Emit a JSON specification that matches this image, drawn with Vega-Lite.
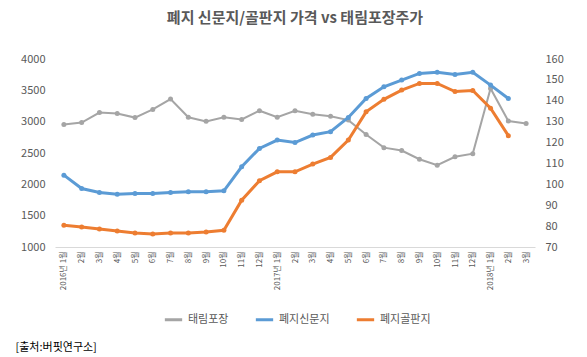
{
  "$schema": "https://vega.github.io/schema/vega-lite/v6.json",
  "autosize": "none",
  "width": 480,
  "height": 188,
  "padding": {"left": 55, "top": 59, "right": 52, "bottom": 110},
  "background": "white",
  "title": {"text": "폐지 신문지/골판지 가격 vs 태림포장주가", "fontSize": 15, "fontWeight": "bold", "color": "#595959", "font": "Noto Sans CJK KR", "offset": 27, "anchor": "middle"},
  "config": {
    "view": {"stroke": null},
    "font": "Noto Sans CJK KR",
    "axis": {"labelColor": "#595959", "labelFont": "Noto Sans CJK KR", "grid": false, "ticks": false, "domain": false, "labelFontSize": 11}
  },
  "data": {"values": [
    {"m":"2016-01","s":"태림포장","v":2955},{"m":"2016-02","s":"태림포장","v":2985},{"m":"2016-03","s":"태림포장","v":3145},{"m":"2016-04","s":"태림포장","v":3130},{"m":"2016-05","s":"태림포장","v":3065},{"m":"2016-06","s":"태림포장","v":3195},{"m":"2016-07","s":"태림포장","v":3360},{"m":"2016-08","s":"태림포장","v":3070},{"m":"2016-09","s":"태림포장","v":3005},{"m":"2016-10","s":"태림포장","v":3070},{"m":"2016-11","s":"태림포장","v":3035},{"m":"2016-12","s":"태림포장","v":3175},{"m":"2017-01","s":"태림포장","v":3070},{"m":"2017-02","s":"태림포장","v":3175},{"m":"2017-03","s":"태림포장","v":3120},{"m":"2017-04","s":"태림포장","v":3085},{"m":"2017-05","s":"태림포장","v":3025},{"m":"2017-06","s":"태림포장","v":2795},{"m":"2017-07","s":"태림포장","v":2585},{"m":"2017-08","s":"태림포장","v":2540},{"m":"2017-09","s":"태림포장","v":2400},{"m":"2017-10","s":"태림포장","v":2305},{"m":"2017-11","s":"태림포장","v":2440},{"m":"2017-12","s":"태림포장","v":2490},{"m":"2018-01","s":"태림포장","v":3530},{"m":"2018-02","s":"태림포장","v":3010},{"m":"2018-03","s":"태림포장","v":2970},
    {"m":"2016-01","s":"폐지신문지","v":104.4},{"m":"2016-02","s":"폐지신문지","v":98.0},{"m":"2016-03","s":"폐지신문지","v":96.1},{"m":"2016-04","s":"폐지신문지","v":95.2},{"m":"2016-05","s":"폐지신문지","v":95.6},{"m":"2016-06","s":"폐지신문지","v":95.6},{"m":"2016-07","s":"폐지신문지","v":96.1},{"m":"2016-08","s":"폐지신문지","v":96.5},{"m":"2016-09","s":"폐지신문지","v":96.5},{"m":"2016-10","s":"폐지신문지","v":96.9},{"m":"2016-11","s":"폐지신문지","v":108.4},{"m":"2016-12","s":"폐지신문지","v":117.2},{"m":"2017-01","s":"폐지신문지","v":121.2},{"m":"2017-02","s":"폐지신문지","v":120.0},{"m":"2017-03","s":"폐지신문지","v":123.6},{"m":"2017-04","s":"폐지신문지","v":125.2},{"m":"2017-05","s":"폐지신문지","v":132.0},{"m":"2017-06","s":"폐지신문지","v":141.1},{"m":"2017-07","s":"폐지신문지","v":146.7},{"m":"2017-08","s":"폐지신문지","v":149.9},{"m":"2017-09","s":"폐지신문지","v":153.1},{"m":"2017-10","s":"폐지신문지","v":153.6},{"m":"2017-11","s":"폐지신문지","v":152.6},{"m":"2017-12","s":"폐지신문지","v":153.6},{"m":"2018-01","s":"폐지신문지","v":147.5},{"m":"2018-02","s":"폐지신문지","v":141.1},
    {"m":"2016-01","s":"폐지골판지","v":80.4},{"m":"2016-02","s":"폐지골판지","v":79.6},{"m":"2016-03","s":"폐지골판지","v":78.6},{"m":"2016-04","s":"폐지골판지","v":77.7},{"m":"2016-05","s":"폐지골판지","v":76.7},{"m":"2016-06","s":"폐지골판지","v":76.2},{"m":"2016-07","s":"폐지골판지","v":76.7},{"m":"2016-08","s":"폐지골판지","v":76.7},{"m":"2016-09","s":"폐지골판지","v":77.2},{"m":"2016-10","s":"폐지골판지","v":78.0},{"m":"2016-11","s":"폐지골판지","v":92.4},{"m":"2016-12","s":"폐지골판지","v":101.7},{"m":"2017-01","s":"폐지골판지","v":106.0},{"m":"2017-02","s":"폐지골판지","v":106.0},{"m":"2017-03","s":"폐지골판지","v":109.7},{"m":"2017-04","s":"폐지골판지","v":112.9},{"m":"2017-05","s":"폐지골판지","v":121.2},{"m":"2017-06","s":"폐지골판지","v":134.7},{"m":"2017-07","s":"폐지골판지","v":140.7},{"m":"2017-08","s":"폐지골판지","v":145.1},{"m":"2017-09","s":"폐지골판지","v":148.3},{"m":"2017-10","s":"폐지골판지","v":148.3},{"m":"2017-11","s":"폐지골판지","v":144.4},{"m":"2017-12","s":"폐지골판지","v":144.9},{"m":"2018-01","s":"폐지골판지","v":136.4},{"m":"2018-02","s":"폐지골판지","v":123.3}
  ]},
  "encoding": {
    "x": {"field": "m", "type": "ordinal", "scale": {"type": "point", "padding": 0.5},
      "axis": {"title": "[출처:버핏연구소]", "titleFontSize": 11, "titleFontWeight": "normal", "titleColor": "#000000", "titleAnchor": "start", "titleAlign": "left", "titleBaseline": "middle", "titleX": -40, "titleY": 100,
        "labelAngle": -90, "labelFontSize": 8, "labelPadding": 4, "domain": true, "domainColor": "#D9D9D9",
        "labelExpr": "toNumber(split(datum.value,'-')[1]) == 1 ? split(datum.value,'-')[0] + '년 1월' : toNumber(split(datum.value,'-')[1]) + '월'"}},
    "color": {"field": "s", "type": "nominal",
      "scale": {"domain": ["태림포장", "폐지신문지", "폐지골판지"], "range": ["#A5A5A5", "#5B9BD5", "#ED7D31"]},
      "legend": {"orient": "none", "legendX": 108, "legendY": 250, "direction": "horizontal", "title": null, "symbolType": "stroke", "symbolStrokeWidth": 3, "symbolSize": 300, "labelFontSize": 11, "labelColor": "#595959", "columnPadding": 20}}
  },
  "layer": [
    {
      "transform": [{"filter": "datum.s == '태림포장'"}],
      "mark": {"type": "line", "strokeWidth": 2, "point": {"size": 25, "filled": true}},
      "encoding": {
        "y": {"field": "v", "type": "quantitative", "scale": {"domain": [1000, 4000], "nice": false},
          "axis": {"orient": "left", "title": null, "format": "d", "values": [1000, 1500, 2000, 2500, 3000, 3500, 4000], "labelPadding": 10}}
      }
    },
    {
      "transform": [{"filter": "datum.s != '태림포장'"}],
      "mark": {"type": "line", "strokeWidth": 3, "point": {"size": 25, "filled": true}},
      "encoding": {
        "y": {"field": "v", "type": "quantitative", "scale": {"domain": [70, 160], "nice": false},
          "axis": {"orient": "right", "title": null, "values": [70, 80, 90, 100, 110, 120, 130, 140, 150, 160], "labelPadding": 10}}
      }
    }
  ],
  "resolve": {"scale": {"y": "independent"}, "axis": {"y": "independent"}}
}
